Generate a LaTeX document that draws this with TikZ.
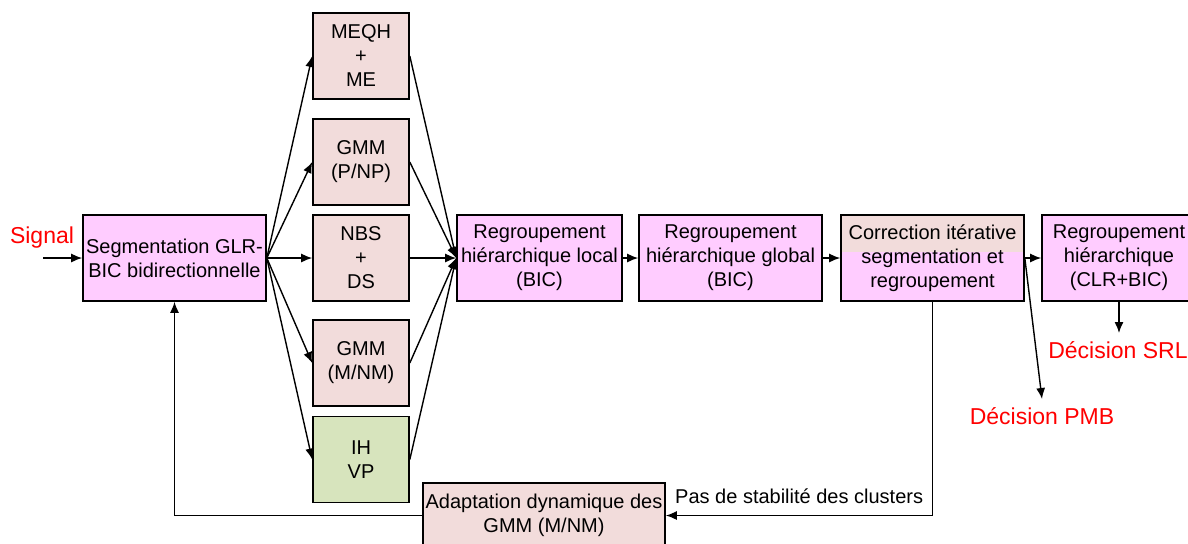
\documentclass[tikz,border=0pt]{standalone}
\usepackage{fontspec}
\setmainfont{Liberation Sans}
\usetikzlibrary{arrows.meta}
\definecolor{boxpink}{HTML}{FFCCFF}
\definecolor{boxrose}{HTML}{F2DCDB}
\definecolor{boxgreen}{HTML}{D7E4BD}
\definecolor{labelred}{HTML}{FF0000}

\begin{document}
\begin{tikzpicture}[x=0.5pt, y=-0.5pt,
    every node/.style={font=\fontsize{10}{12}\selectfont, align=center},
    mainbox/.style={draw, line width=0.8pt, fill=boxpink, inner sep=0pt, minimum height=43pt},
    methbox/.style={draw, line width=0.8pt, fill=boxrose, inner sep=0pt, minimum width=48pt, minimum height=43pt},
    decision/.style={text=labelred, font=\fontsize{11.5}{13}\selectfont, inner sep=4pt},
    arr/.style={-{Latex[length=5.5pt,width=4.5pt]}, line width=0.7pt}]
    \useasboundingbox (0,0) rectangle (1188,543);

    % Input signal
    \node[decision, inner sep=1pt] (signal) at (42,238) {Signal};
    \coordinate (sigin) at (43,258);

    % Segmentation
    \node[mainbox, minimum width=91.5pt] (seg) at (174.5,258) {Segmentation GLR-\\BIC bidirectionnelle};

    % Parallel models
    \node[methbox] (meqh) at (361,56) {MEQH\\+\\ME};
    \node[methbox] (gmmp) at (361,162) {GMM\\(P/NP)};
    \node[methbox] (nbs) at (361,258) {NBS\\+\\DS};
    \node[methbox] (gmmm) at (361,363) {GMM\\(M/NM)};
    \node[methbox, fill=boxgreen] (ihvp) at (361,459.5) {IH\\VP};

    % Clustering chain
    \node[mainbox, minimum width=82.5pt] (local) at (539.5,258) {Regroupement\\hiérarchique local\\(BIC)};
    \node[mainbox, minimum width=91.5pt] (global) at (730.5,258) {Regroupement\\hiérarchique global\\(BIC)};
    \node[mainbox, minimum width=91.5pt,
        path picture={\fill[boxrose] (path picture bounding box.north west) rectangle ([yshift=-18.5pt]path picture bounding box.north east);}]
        (corr) at (932.5,258) {Correction itérative\\segmentation et\\regroupement};
    \node[mainbox, minimum width=77pt] (clr) at (1119,258) {Regroupement\\hiérarchique\\(CLR+BIC)};

    % Decisions
    \node[decision] (srl) at (1118,350) {Décision SRL};
    \node[decision] (pmb) at (1042,416) {Décision PMB};

    % Adaptation
    \node[methbox, minimum width=121pt, minimum height=32.5pt] (adapt) at (544,515.5) {Adaptation dynamique des\\GMM (M/NM)};

    % Connectors
    \draw[arr] (sigin) -- (sigin -| seg.west);
    \foreach \b in {meqh,gmmp,nbs,gmmm,ihvp} {
        \draw[arr] (seg.east) -- (\b.west);
        \draw[arr] (\b.east) -- (local.west);
    }
    \draw[arr] (local) -- (global);
    \draw[arr] (global) -- (corr);
    \draw[arr] (corr) -- (clr);
    \draw[arr] (clr.south) -- (clr.south |- srl.north);
    \draw[arr] (corr.east) -- (pmb.north);

    % Feedback loop
    \draw[arr] (corr.south) |- (adapt.east) node[pos=0.75, above=2pt] {Pas de stabilité des clusters};
    \draw[arr] (adapt.west) -| (seg.south);
\end{tikzpicture}
\end{document}
